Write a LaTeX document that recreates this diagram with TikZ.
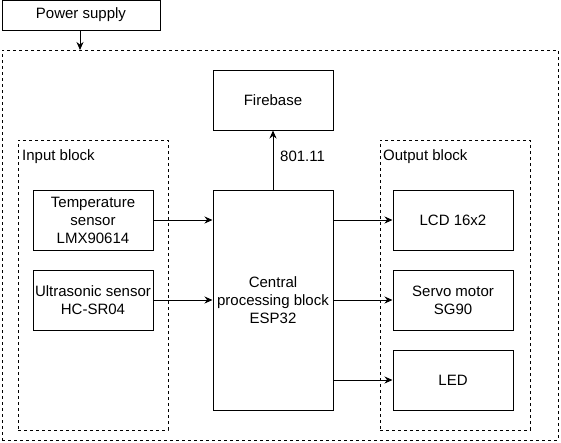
\documentclass[tikz,border=0pt]{standalone}
\usepackage{fontspec}
\setmainfont{Liberation Sans}
\usetikzlibrary{arrows.meta}
\begin{document}
\begin{tikzpicture}[x=1pt,y=-1pt,
  blk/.style={draw, line width=1pt, minimum width=120pt, minimum height=60pt, align=center, inner sep=0pt,
    font=\fontsize{15}{18}\selectfont},
  grp/.style={draw, line width=1pt, dash pattern=on 3pt off 3pt, inner sep=0pt},
  lbl/.style={anchor=west, inner sep=0pt, font=\fontsize{15}{18}\selectfont},
  arr/.style={line width=1pt, -{Stealth[length=8pt,width=7pt]}}]
\useasboundingbox (0,0) rectangle (561,442);
\node[grp, minimum width=556pt, minimum height=390pt] (outer) at (280,245) {};
\node[grp, minimum width=150pt, minimum height=290pt] (inblk) at (93,285) {};
\node[grp, minimum width=150pt, minimum height=290pt] (outblk) at (455,285) {};
\node[blk, minimum width=158pt, minimum height=30pt] (power) at (81,15) {Power supply};
\node[blk] (fire) at (273,100) {Firebase};
\node[blk] (temp) at (93,220) {Temperature\\sensor\\LMX90614};
\node[blk] (ultra) at (93,300) {Ultrasonic sensor\\HC-SR04};
\node[blk, minimum height=220pt] (cpu) at (273,300) {Central\\processing block\\ESP32};
\node[blk] (lcd) at (453,220) {LCD 16x2};
\node[blk] (servo) at (453,300) {Servo motor\\SG90};
\node[blk] (led) at (453,380) {LED};
\node[lbl] (inlbl) at (22,157) {Input block};
\node[lbl] (outlbl) at (383,157) {Output block};
\node[lbl] (wifi) at (280,156) {801.11};
\draw[arr] (power.south -| 80,0) -- (80,50);
\draw[arr] (cpu.north) -- (fire.south);
\draw[arr] (temp.east) -- (cpu.west |- temp);
\draw[arr] (ultra.east) -- (cpu.west |- ultra);
\draw[arr] (cpu.east |- lcd) -- (lcd.west);
\draw[arr] (cpu.east |- servo) -- (servo.west);
\draw[arr] (cpu.east |- led) -- (led.west);
\end{tikzpicture}
\end{document}
